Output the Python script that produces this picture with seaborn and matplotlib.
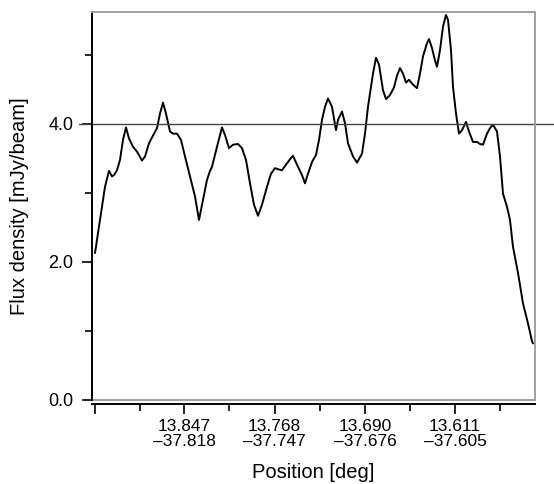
import numpy as np
import pandas as pd
import matplotlib
matplotlib.use("Agg")
import matplotlib.pyplot as plt
import seaborn as sns

# Slice profile: sample index along the cut vs. flux density
sample = [3, 8, 13, 17, 20, 22, 25, 28, 31, 34, 37, 41, 45, 50, 53, 57, 62, 65, 68, 71,
          74, 78, 81, 85, 89, 93, 98, 103, 107, 111, 115, 118, 120, 125, 130, 133, 137,
          141, 146, 150, 154, 158, 162, 166, 170, 175, 179, 183, 187, 190, 194, 198, 201,
          205, 210, 213, 216, 220, 224, 227, 230, 233, 236, 240, 244, 246, 250, 253, 256,
          261, 265, 270, 273, 276, 281, 284, 287, 291, 294, 298, 302, 305, 308, 311, 314,
          317, 321, 325, 328, 331, 335, 337, 340, 343, 345, 348, 351, 354, 356, 359, 361,
          364, 367, 370, 374, 377, 381, 385, 388, 391, 395, 398, 401, 405, 408, 411, 415,
          418, 421, 426, 431, 436, 440, 441]
flux = [2.13, 2.61, 3.09, 3.32, 3.24, 3.26, 3.33, 3.48, 3.77, 3.95, 3.79, 3.67, 3.60,
        3.47, 3.53, 3.72, 3.86, 3.94, 4.15, 4.31, 4.15, 3.89, 3.86, 3.86, 3.77, 3.53,
        3.24, 2.95, 2.61, 2.90, 3.19, 3.32, 3.38, 3.67, 3.95, 3.84, 3.65, 3.70, 3.71,
        3.65, 3.48, 3.14, 2.83, 2.67, 2.83, 3.09, 3.28, 3.36, 3.34, 3.33, 3.41, 3.49,
        3.54, 3.41, 3.26, 3.14, 3.28, 3.45, 3.55, 3.77, 4.06, 4.25, 4.37, 4.25, 3.91,
        4.06, 4.18, 4.01, 3.72, 3.53, 3.44, 3.57, 3.86, 4.25, 4.73, 4.96, 4.86, 4.49,
        4.36, 4.42, 4.53, 4.70, 4.81, 4.73, 4.60, 4.64, 4.57, 4.52, 4.73, 4.98, 5.17,
        5.23, 5.10, 4.92, 4.83, 5.07, 5.41, 5.58, 5.51, 5.07, 4.54, 4.15, 3.86, 3.91,
        4.03, 3.89, 3.74, 3.74, 3.71, 3.70, 3.86, 3.94, 3.99, 3.89, 3.53, 2.99, 2.80,
        2.61, 2.22, 1.84, 1.40, 1.11, 0.85, 0.82]

# Tick positions along the slice and their (RA, Dec) labels
major_ticks = [3, 92, 182.5, 273, 363]
major_labels = ["", "13.847\n\u201337.818", "13.768\n\u201337.747",
                "13.690\n\u201337.676", "13.611\n\u201337.605"]
minor_ticks = [47.5, 137, 228, 318, 408]

df = pd.DataFrame({"sample": sample, "flux": flux})

sns.set_style("ticks")
plt.rcParams["font.family"] = ["Liberation Sans", "DejaVu Sans"]
plt.rcParams["text.color"] = "black"
plt.rcParams["axes.labelcolor"] = "black"
plt.rcParams["xtick.color"] = "black"
plt.rcParams["ytick.color"] = "black"

fig = plt.figure(figsize=(5.54, 4.84), dpi=100)
ax = fig.add_axes([92 / 554, 1 - 400 / 484, 443 / 554, 388 / 484])

sns.lineplot(data=df, x="sample", y="flux", color="black", linewidth=1.4, ax=ax)

ax.set_xlim(0, 443)
ax.set_ylim(0, 5.623)

# reference level at 4.0 mJy/beam, running past the frame
ax.axhline(4.0, xmin=-0.03, xmax=1.05, color="#444444", linewidth=1.0, clip_on=False)

# frame
for side in ["top", "right"]:
    ax.spines[side].set_color("#a0a0a0")
    ax.spines[side].set_linewidth(1.4)
ax.spines["left"].set_color("black")
ax.spines["left"].set_linewidth(1.4)
ax.spines["bottom"].set_color("black")
ax.spines["bottom"].set_linewidth(1.4)
ax.spines["bottom"].set_position(("outward", 3))
ax.axhline(0, color="#a0a0a0", linewidth=1.4, clip_on=False)

ax.set_xticks(major_ticks)
ax.set_xticklabels(major_labels, fontsize=12.5, linespacing=1.0)
ax.set_xticks(minor_ticks, minor=True)
ax.set_yticks([0, 2, 4])
ax.set_yticklabels(["0.0", "2.0", "4.0"], fontsize=13)
ax.set_yticks([1, 3, 5], minor=True)
ax.tick_params(axis="both", which="major", length=7.5, width=1.2, colors="black", pad=3)
ax.tick_params(axis="y", which="major", pad=6)
ax.tick_params(axis="both", which="minor", length=5, width=1.2, colors="black")

ax.set_xlabel("Position [deg]", fontsize=14.5, labelpad=10)
ax.set_ylabel("Flux density [mJy/beam]", fontsize=14.5, labelpad=14)

fig.savefig("out.png", dpi=100)
